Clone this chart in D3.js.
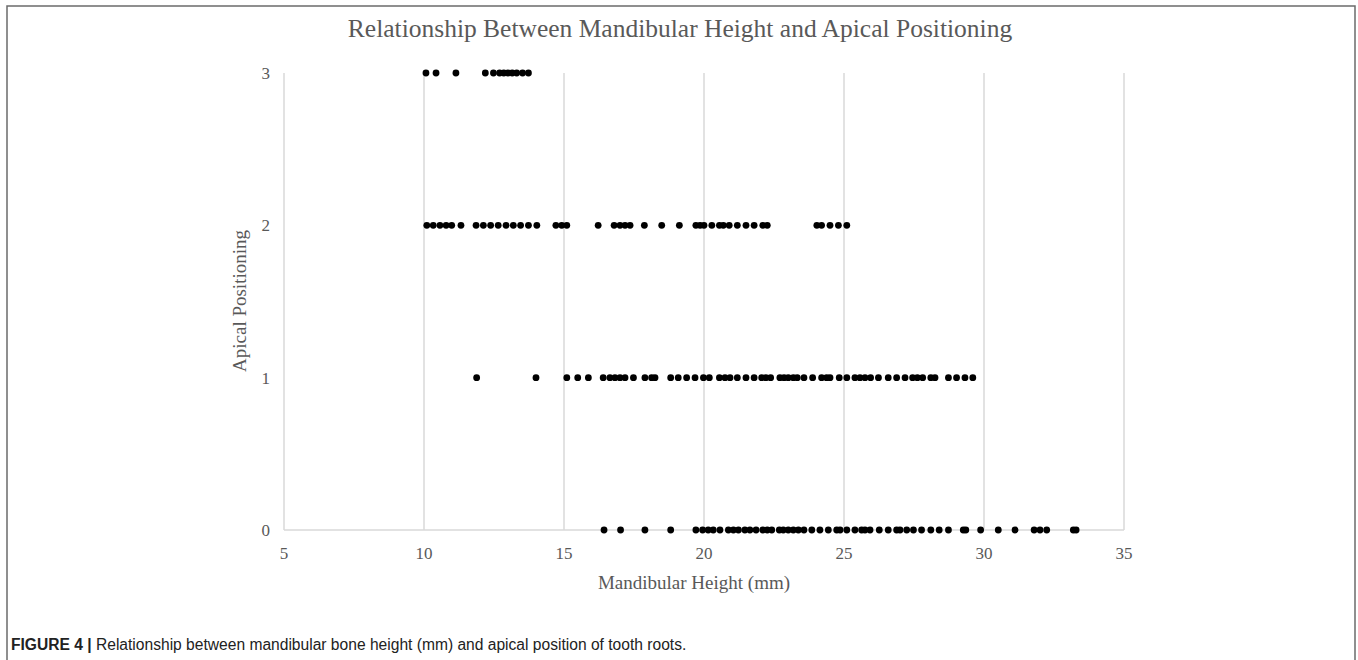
<!DOCTYPE html>
<html>
<head>
<meta charset="utf-8">
<script src="https://cdn.jsdelivr.net/npm/d3@7"></script>
<style>
  body { margin: 0; background: #fff; }
  svg { display: block; }
</style>
</head>
<body>
<svg id="canvas"></svg>
<script>
// values, one list per apical positioning level
const level3 = [10.07, 10.43, 11.14, 12.19, 12.48, 12.7, 12.85, 13.0, 13.15, 13.31, 13.52, 13.73];
const level2 = [10.1, 10.33, 10.57, 10.79, 10.99, 11.32, 11.86, 12.12, 12.38, 12.65, 12.93, 13.19, 13.45,
  13.73, 14.03, 14.71, 14.92, 15.1, 16.22, 16.79, 17.0, 17.18, 17.36, 17.87, 18.49, 19.12, 19.71,
  19.86, 20.0, 20.28, 20.55, 20.69, 20.9, 21.19, 21.5, 21.79, 22.1, 22.26, 24.03, 24.2, 24.5, 24.8, 25.1];
const level1 = [11.88, 14.0, 15.1, 15.49, 15.87, 16.4, 16.64, 16.82, 17.0, 17.18, 17.48, 17.89, 18.13,
  18.25, 18.81, 19.08, 19.38, 19.68, 19.98, 20.19, 20.55, 20.75, 20.93, 21.19, 21.5, 21.79, 22.06,
  22.21, 22.38, 22.71, 22.86, 23.01, 23.19, 23.33, 23.57, 23.88, 24.2, 24.38, 24.5, 24.83, 25.1,
  25.39, 25.57, 25.75, 25.95, 26.23, 26.58, 26.88, 27.18, 27.45, 27.62, 27.81, 28.1, 28.25, 28.73,
  29.02, 29.32, 29.6];
const level0 = [16.43, 17.02, 17.89, 18.81, 19.71, 19.95, 20.15, 20.33, 20.57, 20.87, 21.05, 21.23,
  21.46, 21.64, 21.86, 22.1, 22.26, 22.42, 22.69, 22.83, 23.01, 23.19, 23.37, 23.57, 23.85, 24.14,
  24.44, 24.74, 24.86, 25.1, 25.39, 25.63, 25.75, 25.93, 26.26, 26.58, 26.88, 27.0, 27.24, 27.48,
  27.77, 28.1, 28.4, 28.73, 29.26, 29.35, 29.88, 30.51, 31.11, 31.79, 32.0, 32.24, 33.19, 33.29];
const xTicks = [5, 10, 15, 20, 25, 30, 35];
const yTicks = [0, 1, 2, 3];

const points = [
  ...level0.map(x => ({x, y: 0})),
  ...level1.map(x => ({x, y: 1})),
  ...level2.map(x => ({x, y: 2})),
  ...level3.map(x => ({x, y: 3}))
];

const width = 1358;
const height = 660;
const svg = d3.select("#canvas").attr("width", width).attr("height", height);

// frame around the figure
svg.append("path")
  .attr("d", `M7,${height + 5} V6 H1355 V${height + 5}`)
  .attr("fill", "none")
  .attr("stroke", "#6b6b6b")
  .attr("stroke-width", 1.5);

const xScale = d3.scaleLinear().domain([5, 35]).range([284, 1124]);
const yScale = d3.scaleLinear().domain([0, 3]).range([530, 73]);

const serif = "'Liberation Serif', 'Times New Roman', serif";
const grey = "#595959";

// vertical gridlines
svg.append("g")
  .selectAll("line")
  .data(xTicks)
  .join("line")
    .attr("x1", d => xScale(d))
    .attr("x2", d => xScale(d))
    .attr("y1", yScale(3))
    .attr("y2", yScale(0))
    .attr("stroke", "#d9d9d9")
    .attr("stroke-width", 1.5);

// x axis line
svg.append("line")
  .attr("x1", xScale(5)).attr("x2", xScale(35))
  .attr("y1", yScale(0)).attr("y2", yScale(0))
  .attr("stroke", "#d9d9d9")
  .attr("stroke-width", 1.5);

// tick labels
svg.append("g")
  .selectAll("text")
  .data(xTicks)
  .join("text")
    .attr("x", d => xScale(d))
    .attr("y", 559)
    .attr("text-anchor", "middle")
    .attr("font-family", serif)
    .attr("font-size", 17)
    .attr("fill", grey)
    .text(d => d);

svg.append("g")
  .selectAll("text")
  .data(yTicks)
  .join("text")
    .attr("x", 270)
    .attr("y", d => yScale(d) + 6)
    .attr("text-anchor", "end")
    .attr("font-family", serif)
    .attr("font-size", 17)
    .attr("fill", grey)
    .text(d => d);

// points
svg.append("g")
  .selectAll("circle")
  .data(points)
  .join("circle")
    .attr("cx", d => xScale(d.x))
    .attr("cy", d => yScale(d.y))
    .attr("r", 3.4)
    .attr("fill", "#000");

// titles
svg.append("text")
  .attr("x", 680).attr("y", 37)
  .attr("text-anchor", "middle")
  .attr("font-family", serif)
  .attr("font-size", 25.5)
  .attr("fill", grey)
  .text("Relationship  Between Mandibular Height and Apical Positioning");

svg.append("text")
  .attr("x", 694).attr("y", 589)
  .attr("text-anchor", "middle")
  .attr("font-family", serif)
  .attr("font-size", 19)
  .attr("fill", grey)
  .text("Mandibular Height (mm)");

svg.append("text")
  .attr("transform", "translate(246,301) rotate(-90)")
  .attr("text-anchor", "middle")
  .attr("font-family", serif)
  .attr("font-size", 19)
  .attr("fill", grey)
  .text("Apical Positioning");

// caption
const cap = svg.append("text")
  .attr("x", 11).attr("y", 650)
  .attr("font-family", "'Liberation Sans', Arial, sans-serif")
  .attr("font-size", 15.6)
  .attr("fill", "#222");
cap.append("tspan").attr("font-weight", "bold").text("FIGURE 4 | ");
cap.append("tspan").text("Relationship between mandibular bone height (mm) and apical position of tooth roots.");
</script>
</body>
</html>
